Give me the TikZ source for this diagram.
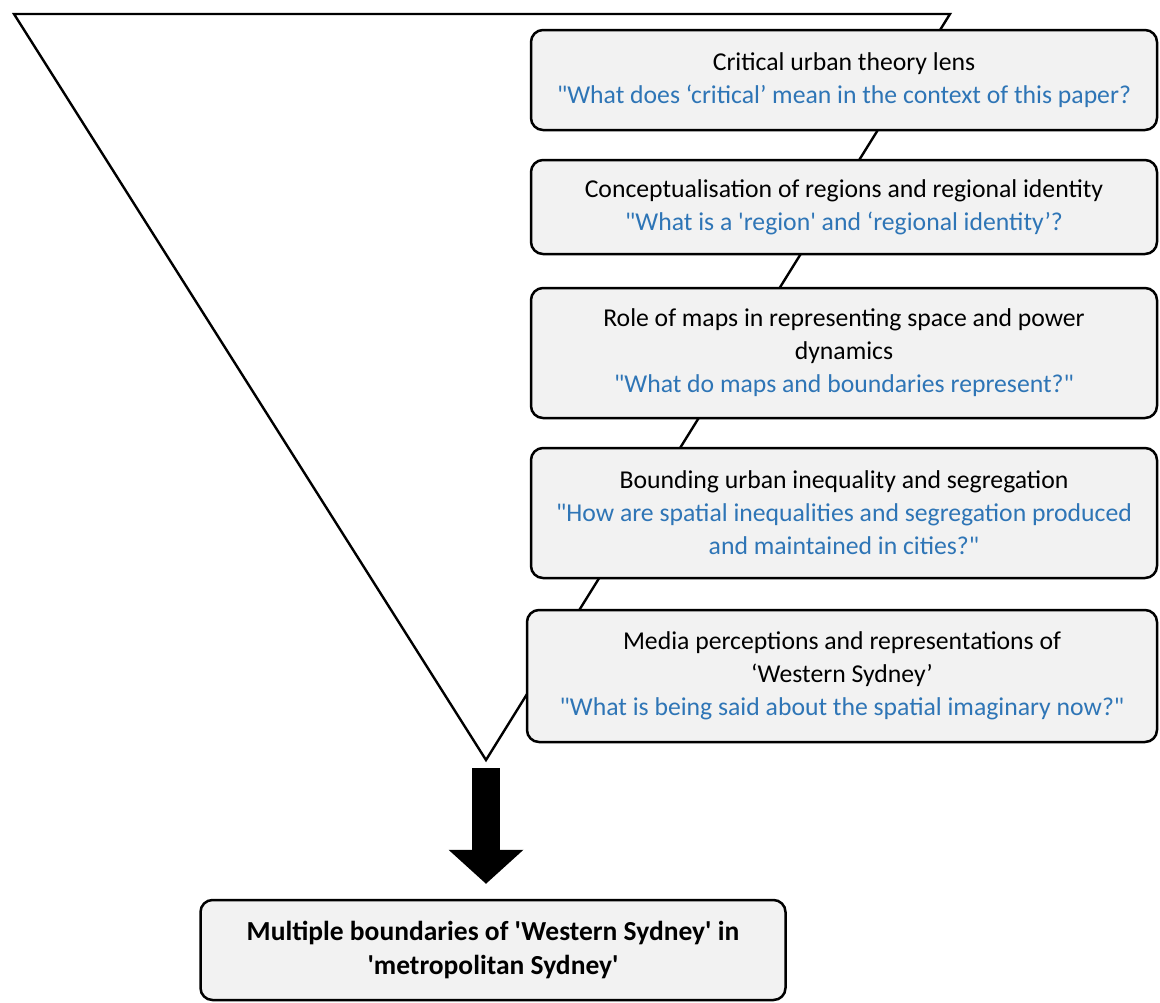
\documentclass[tikz,border=0pt]{standalone}
\usepackage{fontspec}
\setmainfont{Carlito}[Ligatures=TeXOff]
\usetikzlibrary{arrows.meta}
\definecolor{qblue}{RGB}{46,117,182}
\definecolor{boxgray}{RGB}{242,242,242}

\begin{document}
\begin{tikzpicture}[x=1pt,y=-1pt,
                topic/.style={draw=black,line width=2.5pt,fill=boxgray,rounded corners=12pt,
                    minimum width=626pt,align=center,inner sep=0pt,font=\fontsize{25.7}{33}\selectfont},
                bigarrow/.style={line width=28pt,-{Triangle[length=34pt,width=75pt,line width=0pt]}}]
                \useasboundingbox (0,0) rectangle (1160,1002);
                \coordinate (tl) at (14,14);
                \coordinate (tr) at (950,14);
                \coordinate (apex) at (486,760);
                \draw[line width=2.4pt] (tl) -- (tr) -- (apex) -- cycle;
                \node[topic,minimum height=100pt] (lens) at (844,80) {Critical urban theory lens\\
                    \textcolor{qblue}{"What does ‘critical’ mean in the context of this paper?}};
                \node[topic,minimum height=94pt] (region) at (844,207) {Conceptualisation of regions and regional identity\\
                    \textcolor{qblue}{"What is a 'region' and ‘regional identity’?}};
                \node[topic,minimum height=130pt] (maps) at (844,353) {Role of maps in representing space and power\\ dynamics\\
                    \textcolor{qblue}{"What do maps and boundaries represent?"}};
                \node[topic,minimum height=130pt] (bounding) at (844,513) {Bounding urban inequality and segregation\\
                    \textcolor{qblue}{"How are spatial inequalities and segregation produced}\\
                    \textcolor{qblue}{and maintained in cities?"}};
                \node[topic,minimum height=132pt,minimum width=630pt] (media) at (842,676) {Media perceptions and representations of\\ ‘Western Sydney’\\
                    \textcolor{qblue}{"What is being said about the spatial imaginary now?"}};
                \node[topic,minimum height=100pt,minimum width=585pt,font=\fontsize{27.5}{34}\selectfont\bfseries] (final) at (493,950)
                    {Multiple boundaries of 'Western Sydney' in\\ 'metropolitan Sydney'};
                \draw[bigarrow,shorten <=8pt,shorten >=15pt] (apex) -- (apex |- final.north);
            \end{tikzpicture}
\end{document}
